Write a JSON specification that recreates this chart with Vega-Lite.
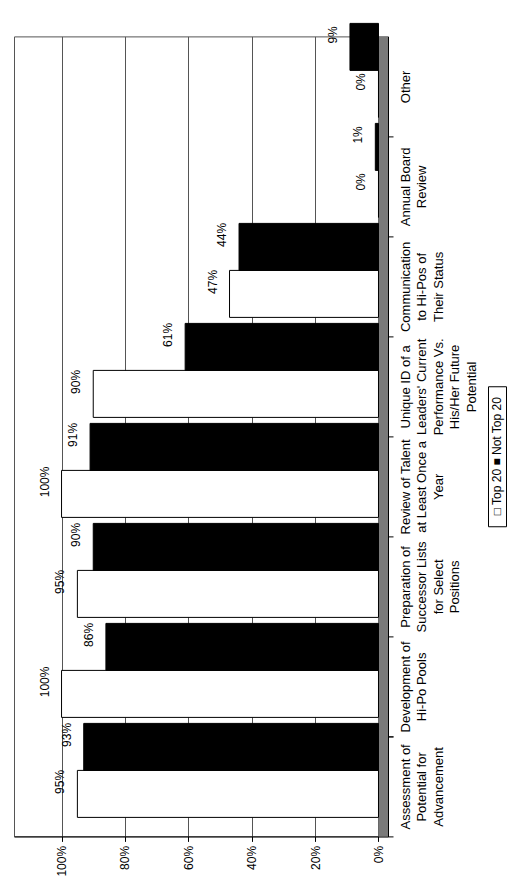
{
  "$schema": "https://vega.github.io/schema/vega-lite/v6.json",
  "padding": {"left": 13, "top": 22, "right": 0, "bottom": 0},
  "background": "white",
  "config": {"font": "Liberation Sans"},
  "spacing": 8,
  "center": true,
  "hconcat": [
    {
      "width": 374,
      "height": 800,
      "view": {"stroke": "#555"},
      "data": {
        "values": [
          {"category": "Assessment of\nPotential for\nAdvancement", "series": "Top 20", "value": 0.95},
          {"category": "Assessment of\nPotential for\nAdvancement", "series": "Not Top 20", "value": 0.93},
          {"category": "Development of\nHi-Po Pools", "series": "Top 20", "value": 1.0},
          {"category": "Development of\nHi-Po Pools", "series": "Not Top 20", "value": 0.86},
          {"category": "Preparation of\nSuccessor Lists\nfor Select\nPositions", "series": "Top 20", "value": 0.95},
          {"category": "Preparation of\nSuccessor Lists\nfor Select\nPositions", "series": "Not Top 20", "value": 0.90},
          {"category": "Review of Talent\nat Least Once a\nYear", "series": "Top 20", "value": 1.0},
          {"category": "Review of Talent\nat Least Once a\nYear", "series": "Not Top 20", "value": 0.91},
          {"category": "Unique ID of a\nLeaders' Current\nPerformance Vs.\nHis/Her Future\nPotential", "series": "Top 20", "value": 0.90},
          {"category": "Unique ID of a\nLeaders' Current\nPerformance Vs.\nHis/Her Future\nPotential", "series": "Not Top 20", "value": 0.61},
          {"category": "Communication\nto Hi-Pos of\nTheir Status", "series": "Top 20", "value": 0.47},
          {"category": "Communication\nto Hi-Pos of\nTheir Status", "series": "Not Top 20", "value": 0.44},
          {"category": "Annual Board\nReview", "series": "Top 20", "value": 0.0},
          {"category": "Annual Board\nReview", "series": "Not Top 20", "value": 0.01},
          {"category": "Other", "series": "Top 20", "value": 0.0},
          {"category": "Other", "series": "Not Top 20", "value": 0.09}
        ]
      },
      "layer": [
        {
          "data": {"values": [{}]},
          "mark": {"type": "rect", "color": "#7a7a7a"},
          "encoding": {
            "x": {"datum": -0.03, "type": "quantitative"},
            "x2": {"datum": 0}
          }
        },
        {
          "mark": {"type": "bar", "stroke": "black", "strokeWidth": 1},
          "encoding": {
            "y": {
              "field": "category", "type": "nominal", "sort": null,
              "scale": {"reverse": true, "paddingInner": 0, "paddingOuter": 0},
              "axis": {
                "orient": "right", "title": null, "labelAngle": 270,
                "labelAlign": "center", "labelBaseline": "top",
                "labelPadding": 6, "labelFontSize": 13, "labelLineHeight": 16.5,
                "labelExpr": "datum.value ? split(datum.value, '\\n') : ''", "labelLimit": 400,
                "tickBand": "extent", "tickSize": 5,
                "domainColor": "black", "tickColor": "black", "labelColor": "black"
              }
            },
            "yOffset": {
              "field": "series", "type": "nominal", "sort": ["Not Top 20", "Top 20"],
              "scale": {"range": [-13, 81], "paddingInner": 0, "paddingOuter": 0}
            },
            "x": {
              "field": "value", "type": "quantitative",
              "scale": {"domain": [-0.03, 1.15], "reverse": true, "nice": false, "zero": false},
              "axis": {
                "orient": "bottom", "title": null, "values": [0, 0.2, 0.4, 0.6, 0.8, 1],
                "format": ".0%", "labelAngle": 270, "labelFontSize": 12, "labelPadding": 4,
                "grid": true, "gridColor": "#555", "tickSize": 5,
                "domainColor": "black", "tickColor": "black", "labelColor": "black"
              }
            },
            "color": {
              "field": "series", "type": "nominal",
              "scale": {"domain": ["Top 20", "Not Top 20"], "range": ["white", "black"]},
              "legend": null
            }
          }
        },
        {
          "mark": {"type": "text", "angle": 270, "align": "center", "baseline": "alphabetic", "dx": 12, "dy": -13, "fontSize": 12, "color": "black"},
          "encoding": {
            "y": {"field": "category", "type": "nominal", "sort": null},
            "yOffset": {"field": "series", "type": "nominal", "sort": ["Not Top 20", "Top 20"]},
            "x": {"field": "value", "type": "quantitative"},
            "text": {"field": "value", "type": "quantitative", "format": ".0%"}
          }
        }
      ]
    },
    {
      "width": 18,
      "height": 140,
      "view": {"stroke": "black", "strokeWidth": 1},
      "data": {"values": [{"text": "□ Top 20 ■ Not Top 20"}]},
      "mark": {"type": "text", "angle": 270, "fontSize": 12, "align": "center", "baseline": "middle", "color": "black"},
      "encoding": {"text": {"field": "text", "type": "nominal"}}
    }
  ]
}
